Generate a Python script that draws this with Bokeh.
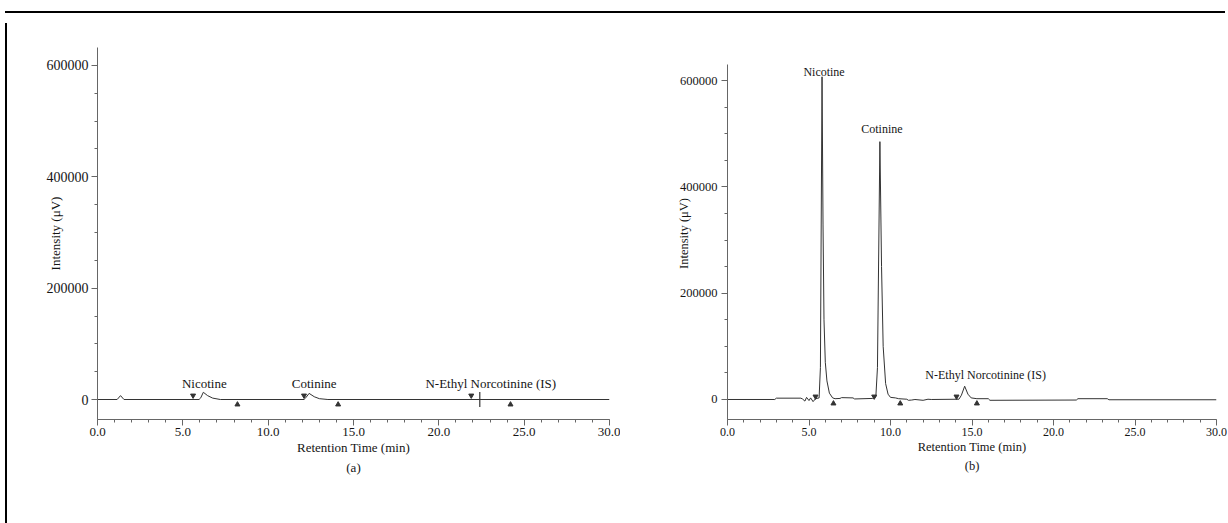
from bokeh.plotting import figure
from bokeh.layouts import row, column
from bokeh.models import (Range1d, FixedTicker, NumeralTickFormatter, PrintfTickFormatter,
                          Title, Div, Spacer, ColumnDataSource)
from bokeh.embed import file_html
from bokeh.resources import INLINE
from bokeh.core.properties import value

# ---------------- data ----------------
x_ticks = [0, 5, 10, 15, 20, 25, 30]
x_minor = list(range(0, 31))
y_ticks = [0, 200000, 400000, 600000]
y_minor = list(range(0, 600001, 50000))

# (a) chromatogram
time_a = [0.0, 1.15, 1.35, 1.55, 5.95, 6.05, 6.2, 6.45, 6.75, 7.2,
          12.1, 12.2, 12.4, 12.7, 13.0, 13.5, 30.0]
intensity_a = [0, 0, 7000, 0, 0, 3000, 13000, 7000, 2500, 0,
               0, 3000, 11000, 5000, 1500, 0, 0]
peak_names = ["Nicotine", "Cotinine", "N-Ethyl Norcotinine (IS)"]
peak_time_a = [6.2, 12.4, 22.4]
start_a = [5.6, 12.1, 21.9]
end_a = [8.2, 14.1, 24.2]

# (b) chromatogram
time_b = [0.0, 2.9, 3.0, 4.5, 4.6, 4.75, 4.85, 5.0, 5.1, 5.25, 5.4, 5.62, 5.7, 5.8,
          5.86, 5.92, 6.0, 6.1, 6.25, 6.45, 6.6, 6.9, 7.0, 7.7, 7.8, 8.9, 9.1, 9.2,
          9.35, 9.45, 9.55, 9.7, 9.85, 10.0, 10.3, 10.5, 11.0, 11.1, 11.3, 11.5, 12.0,
          12.3, 12.5, 14.2, 14.35, 14.55, 14.75, 14.95, 15.3, 16.0, 16.1, 21.4, 21.5,
          23.3, 23.4, 30.0]
intensity_b = [0, 0, 2500, 2500, 1000, -3000, 4000, -2000, 3000, -4000, 1500, 3000, 60000, 607000,
               330000, 150000, 70000, 35000, 12000, 3000, 1500, 2000, 3500, 3000, 1000, 2000, 5000, 60000,
               485000, 250000, 100000, 30000, 10000, 4000, 3000, 1500, 500, -1500, -1000, 0, -1500,
               500, 0, 500, 8000, 25000, 10000, 3000, 1500, 1500, -1500, -1000, 1500,
               1500, -500, -500]
peak_time_b = [5.8, 9.35, 14.55]
peak_height_b = [607000, 485000, 25000]
start_b = [5.4, 9.0, 14.05]
end_b = [6.5, 10.6, 15.3]

# ---------------- style ----------------
FONT = "Liberation Serif"
AXIS_COL = "#666666"
TEXT_COL = "#151515"
LINE_COL = "#333333"
FRAME_H = 372  # both panels share the same frame height (row aligns frames)


def make_panel(width, yr, ybounds, borders, fs_x, fs_y, fs_lab, y_label_standoff, y_tick_standoff, tag):
    p = figure(width=width, height=507, x_range=Range1d(0, 30), y_range=Range1d(*yr),
               output_backend="svg", toolbar_location=None,
               min_border_left=borders[0], min_border_right=borders[1],
               min_border_top=29, min_border_bottom=106)
    p.outline_line_color = None
    p.xgrid.visible = False
    p.ygrid.visible = False
    p.background_fill_color = "white"
    p.border_fill_color = "white"
    p.xaxis.ticker = FixedTicker(ticks=x_ticks, minor_ticks=x_minor)
    p.yaxis.ticker = FixedTicker(ticks=y_ticks, minor_ticks=y_minor)
    p.xaxis.formatter = PrintfTickFormatter(format="%.1f")
    p.yaxis.formatter = NumeralTickFormatter(format="0")
    p.yaxis.bounds = ybounds
    for ax in (p.xaxis[0], p.yaxis[0]):
        ax.axis_line_color = AXIS_COL
        ax.major_tick_line_color = AXIS_COL
        ax.minor_tick_line_color = AXIS_COL
        ax.major_tick_in = 0
        ax.major_tick_out = 6
        ax.minor_tick_in = 0
        ax.minor_tick_out = 3
        ax.major_label_text_font = FONT
        ax.major_label_text_color = TEXT_COL
        ax.axis_label_text_font = FONT
        ax.axis_label_text_font_size = f"{fs_lab}px"
        ax.axis_label_text_font_style = "normal"
        ax.axis_label_text_color = TEXT_COL
    p.xaxis.major_label_text_font_size = f"{fs_x}px"
    p.yaxis.major_label_text_font_size = f"{fs_y}px"
    p.xaxis.axis_label = "Retention Time (min)"
    p.xaxis.major_label_standoff = 2
    p.xaxis.axis_label_standoff = 1
    p.yaxis.axis_label = "Intensity (\u03bcV)"
    p.yaxis.major_label_standoff = y_tick_standoff
    p.yaxis.axis_label_standoff = y_label_standoff
    t = Title(text=tag, align="center", text_font=FONT, text_font_size=f"{fs_lab}px",
              text_font_style="normal", text_color=TEXT_COL, standoff=1)
    p.add_layout(t, "below")
    return p


def px_units(p):
    return (p.y_range.end - p.y_range.start) / FRAME_H


# ---- panel (a)
pa = make_panel(608, (-35900, 632300), (-35900, 632300), (85, 11), 13, 14, 13, -19, 3, "(a)")
pa.line(time_a, intensity_a, line_color=LINE_COL, line_width=1)
ua = px_units(pa)
pa.scatter(start_a, [4 * ua] * len(start_a), marker="inverted_triangle", size=5,
           fill_color=LINE_COL, line_color=LINE_COL)
pa.scatter(end_a, [-5 * ua] * len(end_a), marker="triangle", size=5,
           fill_color=LINE_COL, line_color=LINE_COL)
pa.scatter([peak_time_a[2]], [0], marker="cross", size=15, line_color=LINE_COL, line_width=1.2)
src_a = ColumnDataSource(dict(x=peak_time_a, y=[0] * 3, text=peak_names,
                              dx=[1, 5, 11], dy=[-16, -16, -16]))
pa.text(x="x", y="y", text="text", x_offset="dx", y_offset="dy", source=src_a,
        text_align="center", text_baseline="middle", text_font=value(FONT),
        text_font_size=value("13px"), text_color=TEXT_COL)

# ---- panel (b): same frame, its own scale; the y axis line spans only its bounds
pb = make_panel(610, (-37620, 662100), (-37620, 630100), (107, 14), 12, 12.5, 12.5, -14, 4, "(b)")
pb.line(time_b, intensity_b, line_color=LINE_COL, line_width=1)
ub = px_units(pb)
pb.scatter(start_b, [3 * ub] * len(start_b), marker="inverted_triangle", size=5,
           fill_color=LINE_COL, line_color=LINE_COL)
pb.scatter(end_b, [-4 * ub] * len(end_b), marker="triangle", size=5,
           fill_color=LINE_COL, line_color=LINE_COL)
src_b = ColumnDataSource(dict(x=peak_time_b, y=peak_height_b, text=peak_names,
                              dx=[2, 2, 21], dy=[-5, -13, -11]))
pb.text(x="x", y="y", text="text", x_offset="dx", y_offset="dy", source=src_b,
        text_align="center", text_baseline="middle", text_font=value(FONT),
        text_font_size=value("12px"), text_color=TEXT_COL)

# ---- outer frame (top and left rules) and layout
top_bar = Div(text="", width=1220, height=2, styles={"background-color": "black"})
left_bar = Div(text="", width=2, height=507, styles={"background-color": "black"})
layout = column(Spacer(width=1220, height=6), top_bar, row(left_bar, pa, pb))

open("out.html", "w").write(file_html(layout, INLINE))
